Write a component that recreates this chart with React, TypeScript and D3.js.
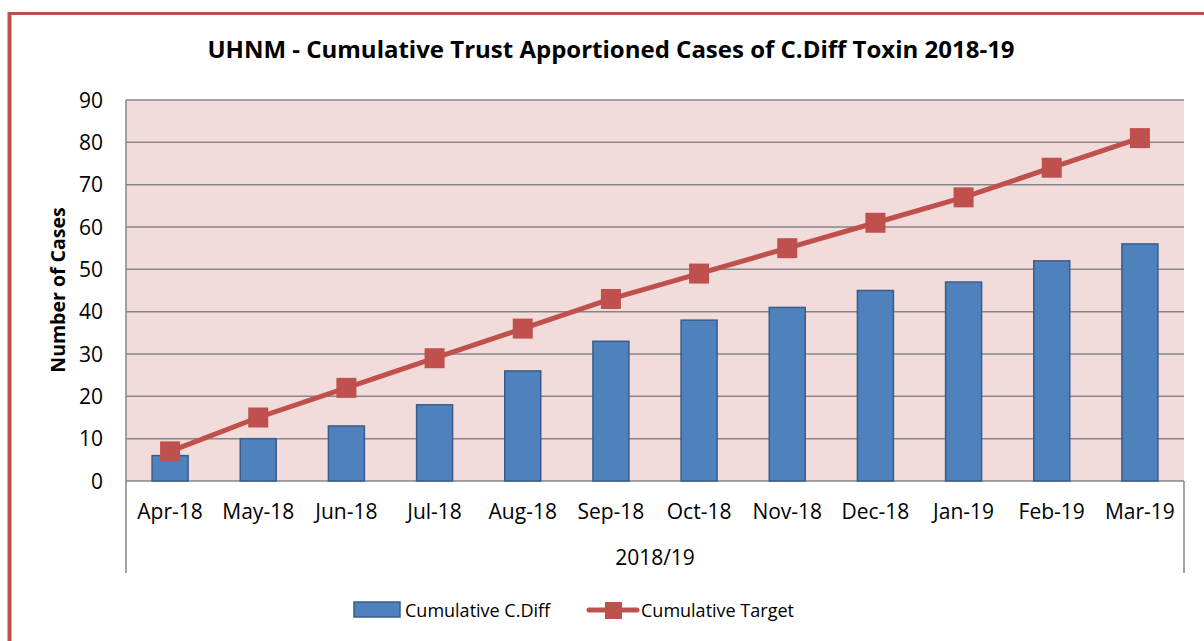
import React from "react";
import * as d3 from "d3";

const months = ["Apr-18","May-18","Jun-18","Jul-18","Aug-18","Sep-18","Oct-18","Nov-18","Dec-18","Jan-19","Feb-19","Mar-19"];
const cumulativeCDiff = [6, 10, 13, 18, 26, 33, 38, 41, 45, 47, 52, 56];
const cumulativeTarget = [7, 15, 22, 29, 36, 43, 49, 55, 61, 67, 74, 81];
const yTicks = [0, 10, 20, 30, 40, 50, 60, 70, 80, 90];
const groupLabel = "2018/19";
const title = "UHNM - Cumulative Trust Apportioned Cases of C.Diff Toxin 2018-19";
const yTitle = "Number of Cases";
const seriesNames = ["Cumulative C.Diff", "Cumulative Target"];

const FONT = "'Open Sans', sans-serif";
const W = 1204, H = 641;
const plot = { left: 126, right: 1184, top: 100, bottom: 481 };

export default function App() {
  const x = d3.scaleBand<string>().domain(months).range([plot.left, plot.right]).paddingInner(0).paddingOuter(0);
  const y = d3.scaleLinear().domain([0, 90]).range([plot.bottom, plot.top]);
  const bw = x.bandwidth();
  const barW = 36;
  const cx = (m: string) => (x(m) as number) + bw / 2;
  const line = d3.line<number>().x((_, i) => cx(months[i])).y((v) => y(v));
  const grid = "#868686";
  const red = "#C0504D";
  const blue = "#4F81BD";
  const blueStroke = "#385D8A";
  return (
    <svg width={W} height={H} style={{ position: "absolute", left: 0, top: 0, display: "block" }}>
      <rect x={0} y={0} width={W} height={H} fill="#fff" />
      <line x1={9.5} y1={12} x2={9.5} y2={H} stroke={red} strokeWidth={4} />
      <line x1={8} y1={13.5} x2={W} y2={13.5} stroke={red} strokeWidth={3} />
      <text x={611} y={58} textAnchor="middle" fontFamily={FONT} fontWeight="bold" fontSize={24} fill="#000">{title}</text>
      <rect x={plot.left} y={plot.top} width={plot.right - plot.left} height={plot.bottom - plot.top} fill="#F2DCDB" />
      {yTicks.map((t) => (
        <g key={t}>
          <line x1={plot.left} x2={plot.right} y1={y(t)} y2={y(t)} stroke={grid} strokeWidth={1.5} />
          <text x={103} y={y(t) + 7.5} textAnchor="end" fontFamily={FONT} fontSize={21} fill="#000">{t}</text>
        </g>
      ))}
      <line x1={plot.left} x2={plot.left} y1={plot.top} y2={573} stroke={grid} strokeWidth={1.5} />
      <line x1={plot.right} x2={plot.right} y1={plot.bottom} y2={573} stroke={grid} strokeWidth={1.5} />
      {months.map((m, i) => (
        <rect key={m} x={cx(m) - barW / 2} y={y(cumulativeCDiff[i])} width={barW} height={y(0) - y(cumulativeCDiff[i])} fill={blue} stroke={blueStroke} strokeWidth={1.5} />
      ))}
      <path d={line(cumulativeTarget) as string} fill="none" stroke={red} strokeWidth={5} />
      {months.map((m, i) => (
        <rect key={m} x={cx(m) - 10} y={y(cumulativeTarget[i]) - 10} width={20} height={20} fill={red} />
      ))}
      {months.map((m) => (
        <text key={m} x={cx(m)} y={519} textAnchor="middle" fontFamily={FONT} fontSize={21} fill="#000">{m}</text>
      ))}
      <text x={(plot.left + plot.right) / 2} y={565} textAnchor="middle" fontFamily={FONT} fontSize={21} fill="#000">{groupLabel}</text>
      <text transform={`translate(65,290) rotate(-90)`} textAnchor="middle" fontFamily={FONT} fontWeight="bold" fontSize={19.5} fill="#000">{yTitle}</text>
      <rect x={354} y={602} width={46} height={15} fill={blue} stroke={blueStroke} strokeWidth={1.5} />
      <text x={405} y={617} fontFamily={FONT} fontSize={18} fill="#000">{seriesNames[0]}</text>
      <line x1={589} x2={637} y1={610} y2={610} stroke={red} strokeWidth={5} strokeLinecap="round" />
      <rect x={605} y={602} width={17} height={17} fill={red} />
      <text x={641} y={617} fontFamily={FONT} fontSize={18} fill="#000">{seriesNames[1]}</text>
    </svg>
  );
}
